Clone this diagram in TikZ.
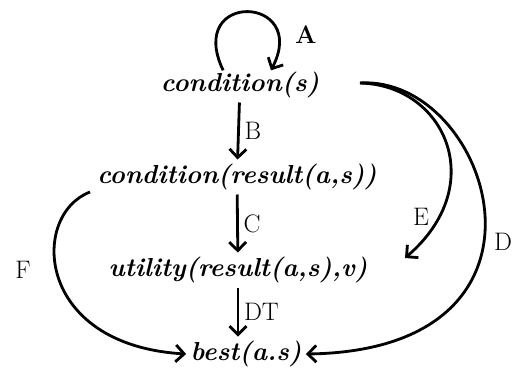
\documentclass[tikz,border=0pt]{standalone}
\usepackage{amsmath,amssymb}
\usepackage{tikz}
\usetikzlibrary{arrows.meta, positioning, calc}

\begin{document}
\begin{tikzpicture}[x=0.025cm, y=-0.025cm,
        term/.style={font=\fontsize{18.5}{20}\selectfont\bfseries\itshape, inner sep=3pt},
        lbl/.style={font=\fontsize{18}{20}\selectfont},
        link/.style={-{Straight Barb[length=6pt,width=12pt]}, line width=2pt}]
        \useasboundingbox (0,0) rectangle (512,377);

        % Terms
        \node[term] (cs) at (240,85) {condition(s)};
        \node[term] (cr) at (237,177) {condition(result(a,s))};
        \node[term] (ut) at (238,270) {utility(result(a,s),v)};
        \node[term] (best) at (246,354) {best(a.s)};

        % Free ends of the curved links
        \coordinate (es) at (360,83);
        \coordinate (ee) at (405,258);
        \coordinate (fs) at (90,192);

        % Self loop
        \draw[link] ([xshift=-12,yshift=-2]cs.north) .. controls (185,-10) and (310,-5) .. ([xshift=22,yshift=-2]cs.north);
        \node[lbl, font=\fontsize{18}{20}\selectfont\bfseries] (la) at (306,35) {A};

        % Straight links
        \draw[link] (cs) -- node[lbl, midway, right] {B} (cr);
        \draw[link] (cr) -- node[lbl, midway, right] {C} (ut);
        \draw[link] (ut.south) -- node[lbl, midway, right] {DT} (ut.south |- best.north);

        % Curved links
        \draw[link] (es) .. controls (445,85) and (490,185) .. (ee);
        \draw[link] (es) .. controls (490,75) and (580,350) .. (best.east);
        \draw[link] (fs) .. controls (30,215) and (35,345) .. (best.west);

        % Labels of the curved links
        \node[lbl] (le) at (421,217) {E};
        \node[lbl] (ld) at (503,242) {D};
        \node[lbl] (lf) at (23,270) {F};
    \end{tikzpicture}
\end{document}
